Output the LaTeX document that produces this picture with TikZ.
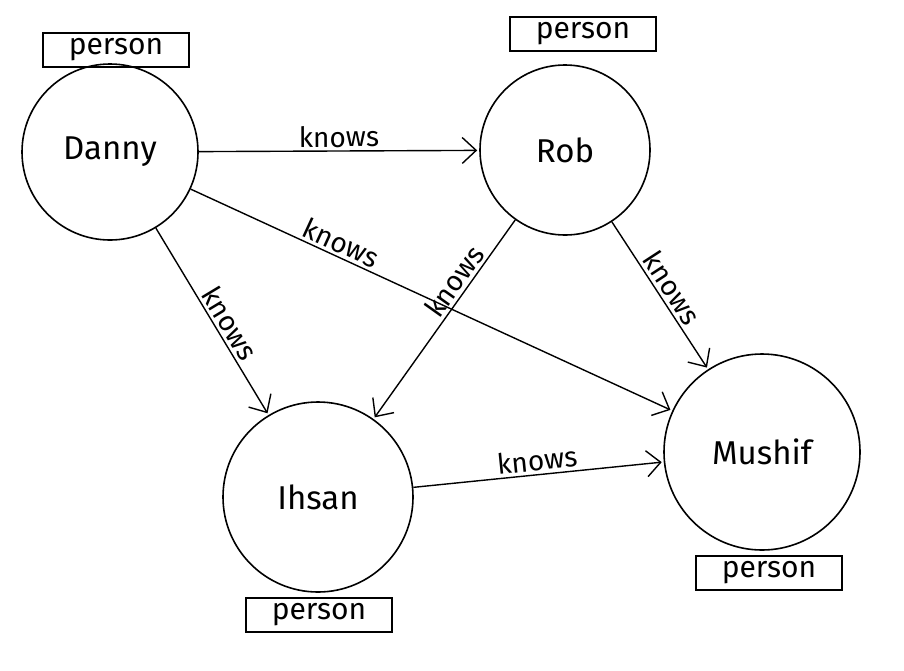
\documentclass[tikz,border=0pt]{standalone}
\usetikzlibrary{arrows.meta}
\usepackage{fontspec}
\setmainfont{Fira Sans}
\begin{document}
\begin{tikzpicture}[x=1pt,y=-1pt,
  ent/.style={circle,draw,line width=1.6pt,inner sep=0pt,font=\fontsize{33}{35}\selectfont},
  tag/.style={draw,line width=1.6pt,minimum width=146pt,minimum height=34pt,inner sep=0pt,font=\fontsize{30}{32}\selectfont},
  rel/.style={-{Straight Barb[length=14pt,width=26pt]},line width=1.4pt,shorten >=2pt},
  lab/.style={font=\fontsize{28}{30}\selectfont,sloped,above,inner sep=3pt}]
\useasboundingbox (0,0) rectangle (904,670);
\node[ent,minimum size=176pt] (danny) at (110,152) {Danny};
\node[ent,minimum size=170pt] (rob) at (565,150) {Rob};
\node[ent,minimum size=190pt] (ihsan) at (318,497) {Ihsan};
\node[ent,minimum size=196pt] (mushif) at (762,452) {Mushif};
\node[tag] (t1) at (116,50) {person};
\node[tag] (t2) at (583,34) {person};
\node[tag] (t3) at (319,615) {person};
\node[tag] (t4) at (769,573) {person};
\draw[rel] (danny) -- node[lab]{knows} (rob);
\draw[rel] (danny) -- node[lab,pos=0.3]{knows} (mushif);
\draw[rel] (danny) -- node[lab,pos=0.55]{knows} (ihsan);
\draw[rel] (rob) -- node[lab,pos=0.35]{knows} (ihsan);
\draw[rel] (rob) -- node[lab]{knows} (mushif);
\draw[rel] (ihsan) -- node[lab]{knows} (mushif);
\end{tikzpicture}
\end{document}
